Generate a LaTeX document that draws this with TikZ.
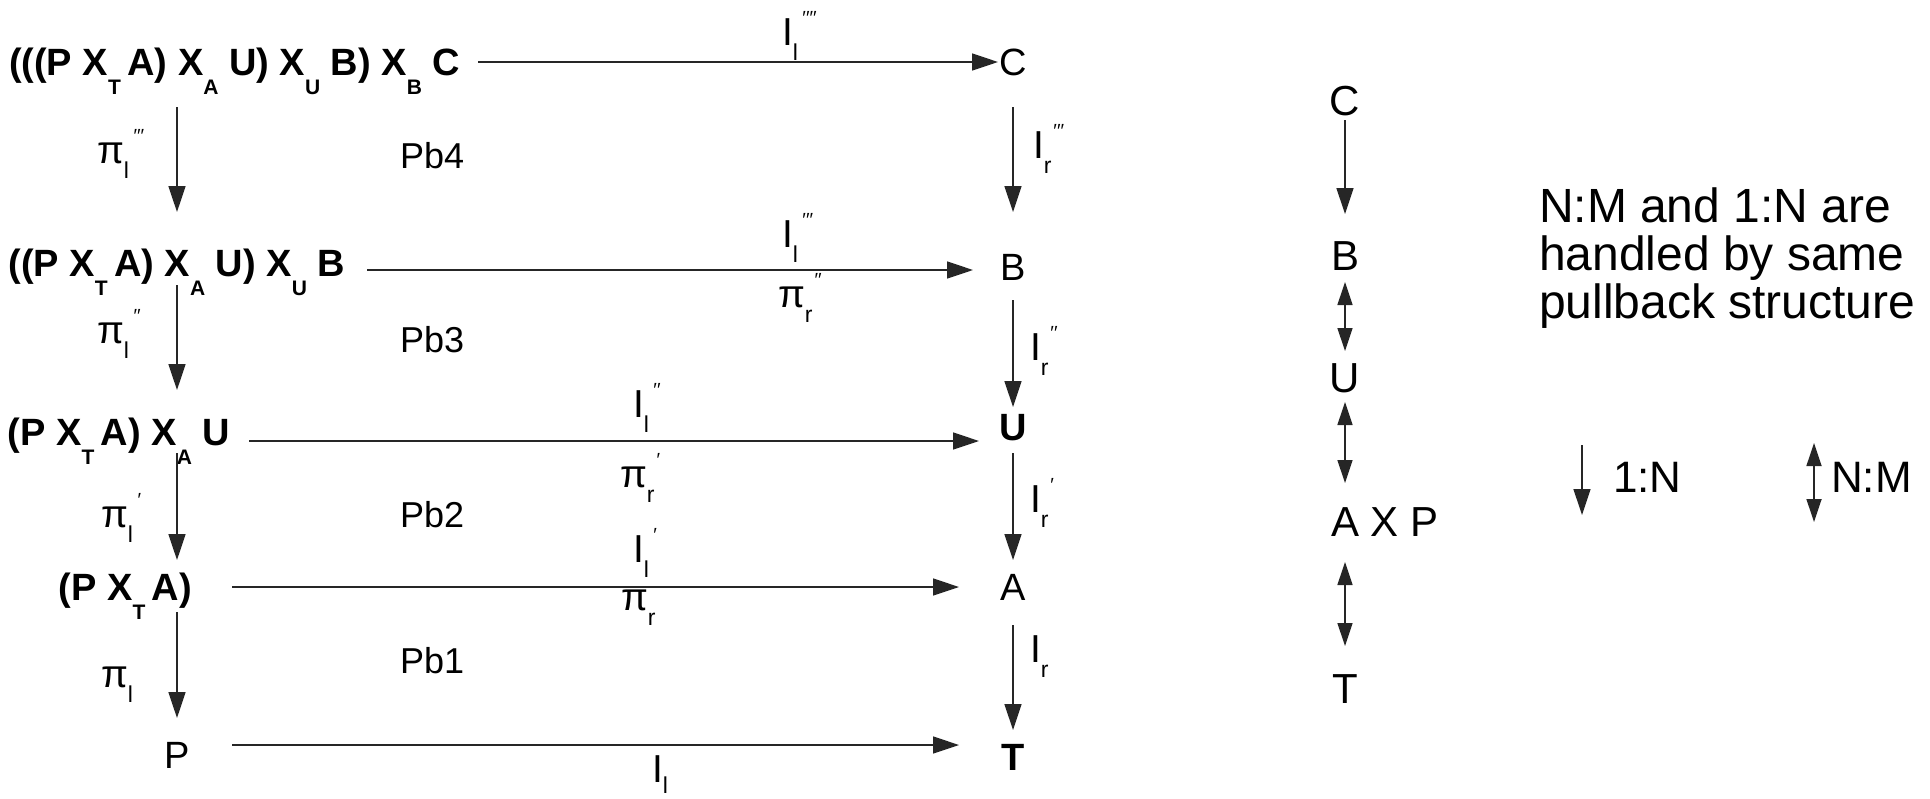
\documentclass[tikz,border=0pt]{standalone}
\usepackage{fontspec}
\setmainfont{Liberation Sans}
\usetikzlibrary{arrows.meta,calc}

% lowered bold index after a product sign
\newcommand\sbx[1]{\raisebox{-9.5pt}{\fontsize{10.5}{10.5}\selectfont\bfseries #1}}
% morphism name with index and primes
\newcommand\arlab[3]{#1\makebox[0pt][l]{\raisebox{-7.5pt}{\fontsize{11.5}{11.5}\selectfont #2}}\hspace{4.8pt}\raisebox{10.5pt}{\fontsize{9.5}{9.5}\selectfont #3}}
\newcommand\arlabhi[3]{#1\makebox[0pt][l]{\raisebox{-5.5pt}{\fontsize{11.5}{11.5}\selectfont #2}}\hspace{4.8pt}\raisebox{10.5pt}{\fontsize{9.5}{9.5}\selectfont #3}}

\begin{document}
\begin{tikzpicture}[x=0.5pt,y=-0.5pt,
  every node/.style={inner sep=0pt,outer sep=0pt},
  rowtxt/.style={font=\fontsize{19}{20}\selectfont\bfseries,anchor=base east},
  obj/.style={font=\fontsize{19}{20}\selectfont,anchor=base},
  objb/.style={font=\fontsize{19}{20}\selectfont\bfseries,anchor=base},
  chn/.style={font=\fontsize{21}{22}\selectfont,anchor=base},
  pb/.style={font=\fontsize{18}{20}\selectfont,anchor=base west},
  lb/.style={font=\fontsize{19.5}{20}\selectfont,anchor=base west},
  leg/.style={font=\fontsize{22}{24}\selectfont,anchor=base west},
  arr/.style={draw=black!85,line width=0.8pt,-{Triangle[length=13pt,width=8.5pt]}},
  dbl/.style={draw=black!85,line width=0.8pt,{Triangle[length=11.5pt,width=7.5pt]}-{Triangle[length=11.5pt,width=7.5pt]}},
]
\useasboundingbox (0,0) rectangle (1930,798);

% left column: iterated pullbacks
\node[rowtxt] (r1) at (460,75) {(((P X\sbx{T}\,A) X\sbx{A} U) X\sbx{U} B) X\sbx{B} C};
\node[rowtxt] (r2) at (345,276) {((P X\sbx{T}\,A) X\sbx{A} U) X\sbx{U} B};
\node[rowtxt] (r3) at (230,445) {(P X\sbx{T}\,A) X\sbx{A} U};
\node[rowtxt] (r4) at (192,600) {(P X\sbx{T}\,A)};
\node[obj] (P) at (177,768) {P};

% right column
\node[obj] (C) at (1013,75) {C};
\node[obj] (B) at (1013,280) {B};
\node[objb] (U) at (1013,440) {U};
\node[obj] (A) at (1013,600) {A};
\node[objb] (T) at (1013,770) {T};

% projections on the left
\draw[arr,shorten <=16pt,shorten >=32pt] (r1.base -| P.base) -- (r2.base -| P.base);
\draw[arr,shorten <=4.5pt,shorten >=27.5pt] (r2.base -| P.base) -- (r3.base -| P.base);
\draw[arr,shorten <=4pt,shorten >=20pt] (r3.base -| P.base) -- (r4.base -| P.base);
\draw[arr,shorten <=6pt,shorten >=25pt] (r4.base -| P.base) -- (P.base);

% maps on the right
\draw[arr,shorten <=16pt,shorten >=34pt] (C.base) -- (B.base);
\draw[arr,shorten <=10pt,shorten >=16.5pt] (B.base) -- (U.base);
\draw[arr,shorten <=6.5pt,shorten >=20pt] (U.base) -- (A.base);
\draw[arr,shorten <=12.5pt,shorten >=20pt] (A.base) -- (T.base);

% horizontal maps
\draw[arr] ($(r1.base east)+(18,-13)$) -- ($(r1.base east -| C.base)+(-15,-13)$);
\draw[arr] ($(r2.base east)+(22,-6)$) -- ($(r2.base east -| B.base)+(-40,-6)$);
\draw[arr] ($(r3.base east)+(19,-4)$) -- ($(r3.base east -| U.base)+(-34,-4)$);
\draw[arr] ($(r4.base east)+(40,-13)$) -- ($(r4.base east -| A.base)+(-54,-13)$);
\draw[arr] ($(P.base)+(55,-23)$) -- ($(P.base -| T.base)+(-54,-23)$);

% labels of the horizontal maps
\node[lb] (h1) at (782,45) {\arlab{I}{l}{′′′′}};
\node[lb] (h2a) at (782,247) {\arlab{I}{l}{′′′}};
\node[lb] (h2b) at (778,307) {\arlab{π}{r}{′′}};
\node[lb] (h3a) at (633,417) {\arlab{I}{l}{′′}};
\node[lb] (h3b) at (620,487) {\arlab{π}{r}{′}};
\node[lb] (h4a) at (633,562) {\arlab{I}{l}{′}};
\node[lb] (h4b) at (621,610) {\arlab{π}{r}{}};
\node[lb] (h5) at (652,782) {\arlabhi{I}{l}{}};

% labels of the vertical maps
\node[lb] (v1) at (97,163) {\arlab{π}{l}{′′′}};
\node[lb] (v2) at (97,343) {\arlab{π}{l}{′′}};
\node[lb] (v3) at (101,527) {\arlab{π}{l}{′}};
\node[lb] (v4) at (101,687) {\arlab{π}{l}{}};
\node[lb] (w1) at (1033,158) {\arlab{I}{r}{′′′}};
\node[lb] (w2) at (1030,360) {\arlab{I}{r}{′′}};
\node[lb] (w3) at (1030,512) {\arlab{I}{r}{′}};
\node[lb] (w4) at (1030,662) {\arlab{I}{r}{}};

% pullback squares
\node[pb] (pb4) at (400,168) {Pb4};
\node[pb] (pb3) at (400,352) {Pb3};
\node[pb] (pb2) at (400,527) {Pb2};
\node[pb] (pb1) at (400,673) {Pb1};

% chain of entities
\node[chn] (cC) at (1345,115) {C};
\node[chn] (cB) at (1345,270) {B};
\node[chn] (cU) at (1345,392) {U};
\node[chn,anchor=base west] (cA) at (1331,536) {A X P};
\node[chn] (cT) at (1345,703) {T};
\draw[arr,shorten <=2.5pt,shorten >=28pt] (cC.base) -- (cB.base);
\draw[dbl,shorten <=6pt,shorten >=20.5pt] (cB.base) -- (cU.base);
\draw[dbl,shorten <=5pt,shorten >=26.5pt] (cU.base) -- (cU.base |- cA.base);
\draw[dbl,shorten <=13pt,shorten >=28.5pt] (cU.base |- cA.base) -- (cT.base);

% note and key
\node[leg,align=left,font=\fontsize{24}{24}\selectfont] (note) at (1539,318) {N:M and 1:N are\\handled by same\\pullback structure};
\coordinate (k1t) at (1582,445);
\coordinate (k1b) at (1582,515);
\draw[arr] (k1t) -- (k1b);
\node[leg] (k1) at (1613,492) {1:N};
\coordinate (k2t) at (1814,443);
\coordinate (k2b) at (1814,522);
\draw[dbl] (k2t) -- (k2b);
\node[leg] (k2) at (1831,492) {N:M};
\end{tikzpicture}
\end{document}
